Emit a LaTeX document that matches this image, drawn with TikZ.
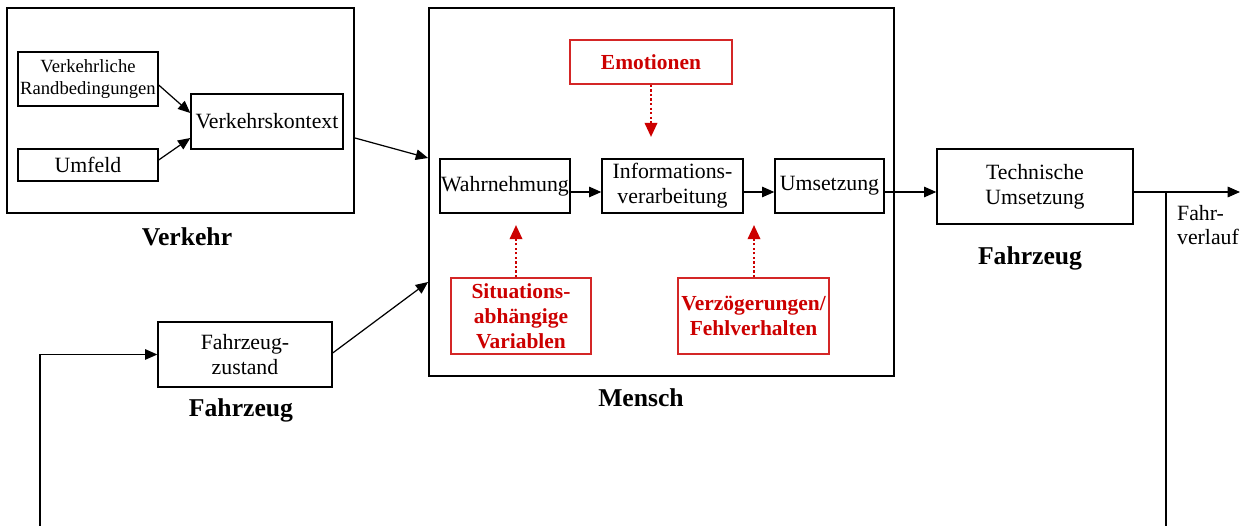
\documentclass[tikz,border=0pt]{standalone}
\usepackage{fontspec}
\setmainfont{Liberation Serif}
\usetikzlibrary{arrows.meta}
\definecolor{warnred}{RGB}{204,0,0}

\begin{document}
\begin{tikzpicture}[
    x=0.02cm, y=-0.02cm,
    >={Triangle[length=7pt,width=6pt]},
    line width=0.7pt,
    box/.style={draw, line width=0.8pt, align=center, inner sep=0pt, font=\fontsize{12.4}{14.4}\selectfont},
    bigbox/.style={draw, line width=1.1pt, inner sep=0pt},
    redbox/.style={draw=warnred!85, line width=0.8pt, text=warnred, align=center, inner sep=0pt, font=\fontsize{12.2}{14.2}\selectfont\bfseries},
    title/.style={font=\fontsize{14.6}{16}\selectfont\bfseries},
    influence/.style={-{Triangle[length=8pt,width=7pt]}, warnred, line width=1.4pt, dash pattern=on 1.3pt off 1.3pt}
]
\useasboundingbox (0,0) rectangle (1248,526);

% Verkehr
\node[bigbox, minimum width=6.94cm, minimum height=4.1cm] (verkehr) at (180.5,110.5) {};
\node[box, minimum width=2.8cm, minimum height=1.08cm, font=\fontsize{10.6}{13}\selectfont] (rand) at (88,79) {Verkehrliche\\Randbedingungen};
\node[box, minimum width=2.8cm, minimum height=0.64cm] (umfeld) at (88,165) {Umfeld};
\node[box, minimum width=3.04cm, minimum height=1.1cm] (kontext) at (267,121.5) {Verkehrskontext};
\node[title] (tverkehr) at (187,237) {Verkehr};

% Mensch
\node[bigbox, minimum width=9.3cm, minimum height=7.36cm] (mensch) at (661.5,192) {};
\node[redbox, minimum width=3.24cm, minimum height=0.88cm] (emo) at (651,62) {Emotionen};
\node[box, minimum width=2.6cm, minimum height=1.08cm] (wahr) at (505,186) {Wahrnehmung};
\node[box, minimum width=2.82cm, minimum height=1.08cm] (info) at (672.5,186) {Informations-\\verarbeitung};
\node[box, minimum width=2.18cm, minimum height=1.08cm] (ums) at (829.5,186) {Umsetzung};
\node[redbox, minimum width=2.8cm, minimum height=1.52cm] (sit) at (521,316) {Situations-\\abhängige\\Variablen};
\node[redbox, minimum width=3.02cm, minimum height=1.52cm] (verz) at (753.5,316) {Verzögerungen/\\Fehlverhalten};
\node[title] (tmensch) at (641,398) {Mensch};

% Fahrzeug
\node[box, minimum width=3.92cm, minimum height=1.5cm] (tech) at (1035,186.5) {Technische\\Umsetzung};
\node[title] (tfzg) at (1030,258) {Fahrzeug};
\node[box, minimum width=3.48cm, minimum height=1.3cm] (zust) at (245,354.5) {Fahrzeug-\\zustand};
\node[title] (tzust) at (241,410) {Fahrzeug};
\node[align=left, inner sep=0pt, font=\fontsize{12.4}{14}\selectfont] (verlauf) at (1208,225) {Fahr-\\verlauf};

\coordinate (out) at (1240,192);
\coordinate (branch) at (1166,192);
\coordinate (fbright) at (1166,526);
\coordinate (fbleft) at (40,526);

\draw[->] (rand.east |- 0,85) -- (kontext.west |- 0,113);
\draw[->] (umfeld.east |- 0,160) -- (kontext.west |- 0,138);
\draw[->] (verkehr.east |- 0,138) -- (mensch.west |- 0,158);
\draw[->] (zust.east |- 0,353) -- (mensch.west |- 0,282);
\draw[->] (wahr.east |- 0,192) -- (info.west |- 0,192);
\draw[->] (info.east |- 0,192) -- (ums.west |- 0,192);
\draw[->] (ums.east |- 0,192) -- (tech.west |- 0,192);
\draw[->] (tech.east |- 0,192) -- (out);
\draw (branch) -- (fbright);
\draw[->] (fbleft) -- (fbleft |- zust.west) -- (zust.west);

\draw[influence] (emo.south) -- (651,137);
\draw[influence] (sit.north -| 516,0) -- (516,225);
\draw[influence] (verz.north -| 754,0) -- (754,225);

\end{tikzpicture}
\end{document}
